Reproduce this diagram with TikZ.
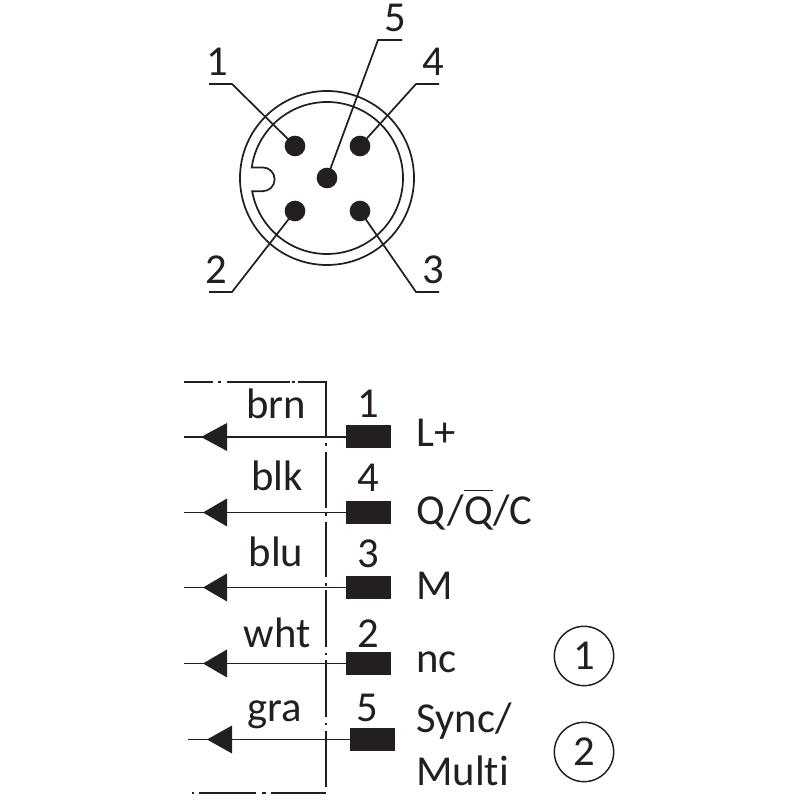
\documentclass[tikz,border=0pt]{standalone}
\usepackage{fontspec}
\setmainfont[Ligatures={NoCommon}]{Carlito}
\definecolor{ink}{HTML}{231F20}
\tikzset{
  x=0.75pt,y=0.75pt,
  line/.style={draw=ink,line width=1.3pt},
  thin line/.style={draw=ink,line width=1.15pt},
  pin/.style={circle,fill=ink,inner sep=0pt,minimum size=15.5pt},
  label/.style={text=ink,anchor=base,inner sep=0pt,font=\fontsize{32}{38}\selectfont},
  leftlabel/.style={label,anchor=base west},
  contact/.style={fill=ink,inner sep=0pt,minimum width=33.5pt,minimum height=17.25pt},
  mark circle/.style={circle,draw=ink,line width=1.1pt,inner sep=0pt,minimum size=44.5pt,text=ink,font=\fontsize{32}{38}\selectfont},
}
\begin{document}
\begin{tikzpicture}
\useasboundingbox (0,0) rectangle (800,800);
% --- connector face
\coordinate (c) at (327,622);
\draw[line] (c) circle[radius=87];
\draw[line] (c) ++(190:76) arc[start angle=190,end angle=532,radius=76]
  -- ++(11,0) arc[start angle=90,end angle=-90,radius=11.9] -- cycle;
\node[pin] (p1) at (295,654) {};
\node[pin] (p4) at (360,654) {};
\node[pin] (p5) at (327,622) {};
\node[pin] (p2) at (295,589) {};
\node[pin] (p3) at (360,589) {};
\coordinate (a1) at (209,716); \coordinate (b1) at (232,716);
\coordinate (a4) at (439,716); \coordinate (b4) at (416,716);
\coordinate (a5) at (402,760); \coordinate (b5) at (378,760);
\coordinate (a2) at (209,508); \coordinate (b2) at (232,508);
\coordinate (a3) at (439,508); \coordinate (b3) at (416,508);
\draw[line] (a1) -- (b1) -- (p1.center);
\draw[line] (a4) -- (b4) -- (p4.center);
\draw[line] (a5) -- (b5) -- (p5.center);
\draw[line] (a2) -- (b2) -- (p2.center);
\draw[line] (a3) -- (b3) -- (p3.center);
\node[label] (n1) at (217,724) {1};
\node[label] (n4) at (433,724) {4};
\node[label] (n5) at (395,768) {5};
\node[label] (n2) at (216,516) {2};
\node[label] (n3) at (433,516) {3};
% --- dash-dot housing outline
\draw[thin line] (184,418) -- (213,418) (218,418) -- (221,418) (227,418) -- (290,418) (292,418) -- (295,418) (298,418) -- (326,418) -- (326,362);
\draw[thin line] (326,356.5) -- (326,354) (326,348) -- (326,292) (326,287) -- (326,284) (326,278) -- (326,223)
  (326,217) -- (326,214) (326,210) -- (326,153) (326,147) -- (326,145) (326,140) -- (326,83) (326,77) -- (326,75) (326,69) -- (326,13);
\draw[thin line] (192,7) -- (194,7) (199,7) -- (256,7) (262,7) -- (266,7) (271,7) -- (326,7);
% --- contacts
\node[contact] (k1) at (368.5,363) {};
\node[contact] (k4) at (368.5,287.5) {};
\node[contact] (k3) at (368.5,212.5) {};
\node[contact] (k2) at (368.5,136.5) {};
\node[contact] (k5) at (372.5,60.5) {};
\coordinate (e1) at (184,363);
\coordinate (e4) at (184,287.5);
\coordinate (e3) at (184,212.5);
\coordinate (e2) at (184,136.5);
\coordinate (e5) at (188,60.5);
\draw[line] (k1.center) -- (e1);
\draw[line] (k4.center) -- (e4);
\draw[line] (k3.center) -- (e3);
\draw[line] (k2.center) -- (e2);
\draw[line] (k5.center) -- (e5);
\fill[ink] (e1) ++(17,0) -- ++(26,14) -- ++(0,-28) -- cycle;
\fill[ink] (e4) ++(19,0) -- ++(24,14) -- ++(0,-28) -- cycle;
\fill[ink] (e3) ++(19,0) -- ++(24,14) -- ++(0,-28) -- cycle;
\fill[ink] (e2) ++(19,0) -- ++(24,14) -- ++(0,-28) -- cycle;
\fill[ink] (e5) ++(19,0) -- ++(25,14) -- ++(0,-28) -- cycle;
% --- wire colours
\node[label] (brn) at (276,381) {brn};
\node[label] (blk) at (277,309) {blk};
\node[label] (blu) at (276,233) {blu};
\node[label] (wht) at (277,152) {wht};
\node[label] (gra) at (275,78) {gra};
% --- contact numbers
\node[label] (t1) at (368,382) {1};
\node[label] (t4) at (368,308) {4};
\node[label] (t3) at (368,232) {3};
\node[label] (t2) at (368,152) {2};
\node[label] (t5) at (367,78) {5};
% --- signal names
\node[leftlabel] (lp) at (416,353) {L+};
\node[leftlabel] (lq) at (416,275) {Q/$\overline{\mbox{Q}\rule{0pt}{0.78em}}$/C};
\node[leftlabel] (lm) at (416,200) {M};
\node[leftlabel] (ln) at (416,127) {nc};
\node[leftlabel] (ls) at (416,67) {Sync/};
\node[leftlabel] (lu) at (416,14) {Multi};
% --- circled notes
\node[mark circle] (m1) at (584,144) {1};
\node[mark circle] (m2) at (584,48) {2};
\end{tikzpicture}
\end{document}
